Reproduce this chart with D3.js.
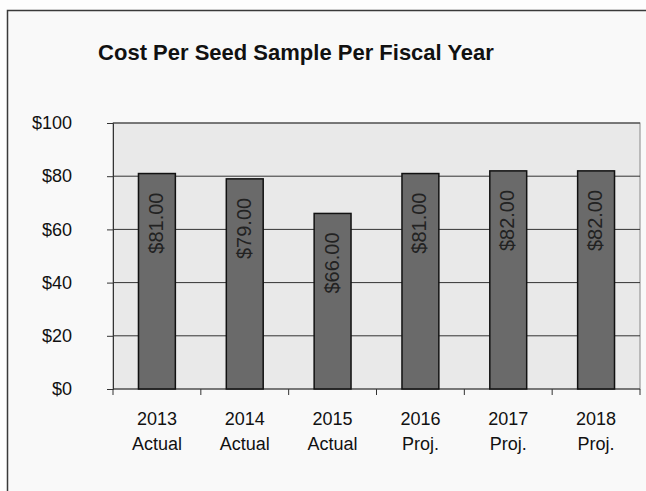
<!DOCTYPE html>
<html><head><meta charset="utf-8">
<script src="https://cdn.jsdelivr.net/npm/d3@7"></script>
<style>body{margin:0;background:#fdfdfd;}svg{display:block;font-family:"Liberation Sans",Arial,sans-serif;}</style>
</head><body>
<svg id="c" width="646" height="491"></svg>
<script>
const years = ["2013","2014","2015","2016","2017","2018"];
const kinds = ["Actual","Actual","Actual","Proj.","Proj.","Proj."];
const costs = [81,79,66,81,82,82];
const yTicks = [0,20,40,60,80,100];

const svg = d3.select("#c");
// outer frame
svg.append("rect").attr("x",7.5).attr("y",10.5).attr("width",660).attr("height",500)
  .attr("fill","#f9f9f9").attr("stroke","#3a3a3a").attr("stroke-width",1.5);

const m = {l:113, r:640, t:123, b:389};
const x = d3.scaleBand().domain(years).range([m.l,m.r]).paddingInner(0.58).paddingOuter(0.29);
const y = d3.scaleLinear().domain([0,100]).range([m.b,m.t]);

svg.append("rect").attr("x",m.l).attr("y",m.t).attr("width",m.r-m.l).attr("height",m.b-m.t)
  .attr("fill","#e9e9e9").attr("stroke","#888").attr("stroke-width",1);

// gridlines
svg.append("g").selectAll("line").data(yTicks.filter(d=>d>0)).join("line")
  .attr("x1",m.l).attr("x2",m.r).attr("y1",d=>y(d)).attr("y2",d=>y(d))
  .attr("stroke","#333").attr("stroke-width",1);

// y axis
const ya = svg.append("g").attr("transform",`translate(${m.l},0)`)
  .call(d3.axisLeft(y).tickValues(yTicks).tickFormat(d=>"$"+d).tickSize(6).tickPadding(35));
ya.select(".domain").attr("stroke","#333");
ya.selectAll("line").attr("stroke","#333");
ya.selectAll("text").attr("font-size",18).attr("fill","#111").attr("font-family","Liberation Sans, Arial, sans-serif");

// x axis
const step = x.step();
const xa = svg.append("g").attr("transform",`translate(0,${m.b})`);
xa.append("line").attr("x1",m.l).attr("x2",m.r).attr("stroke","#333").attr("stroke-width",1);
xa.selectAll("line.t").data(d3.range(years.length+1)).join("line").attr("class","t")
  .attr("x1",i=>m.l+i*step).attr("x2",i=>m.l+i*step).attr("y1",0).attr("y2",6).attr("stroke","#333");
const xl = xa.selectAll("text").data(years).join("text")
  .attr("x",d=>x(d)+x.bandwidth()/2).attr("text-anchor","middle")
  .attr("font-size",18).attr("fill","#111");
xl.append("tspan").attr("x",d=>x(d)+x.bandwidth()/2).attr("y",36).text(d=>d);
xl.append("tspan").attr("x",d=>x(d)+x.bandwidth()/2).attr("y",61).text((d,i)=>kinds[i]);

// bars
svg.append("g").selectAll("rect").data(costs).join("rect")
  .attr("x",(d,i)=>x(years[i])).attr("width",x.bandwidth())
  .attr("y",d=>y(d)).attr("height",d=>y(0)-y(d))
  .attr("fill","#6a6a6a").attr("stroke","#111").attr("stroke-width",1.5);

// labels
svg.append("g").selectAll("text").data(costs).join("text")
  .attr("transform",(d,i)=>`translate(${x(years[i])+x.bandwidth()/2+6},${y(d)+19}) rotate(-90)`)
  .attr("text-anchor","end").attr("font-size",20).attr("fill","#222")
  .text(d=>"$"+d.toFixed(2));

// title
svg.append("text").attr("x",296).attr("y",60).attr("text-anchor","middle")
  .attr("font-size",22).attr("font-weight","bold").attr("fill","#111")
  .text("Cost Per Seed Sample Per Fiscal Year");
</script>
</body></html>
